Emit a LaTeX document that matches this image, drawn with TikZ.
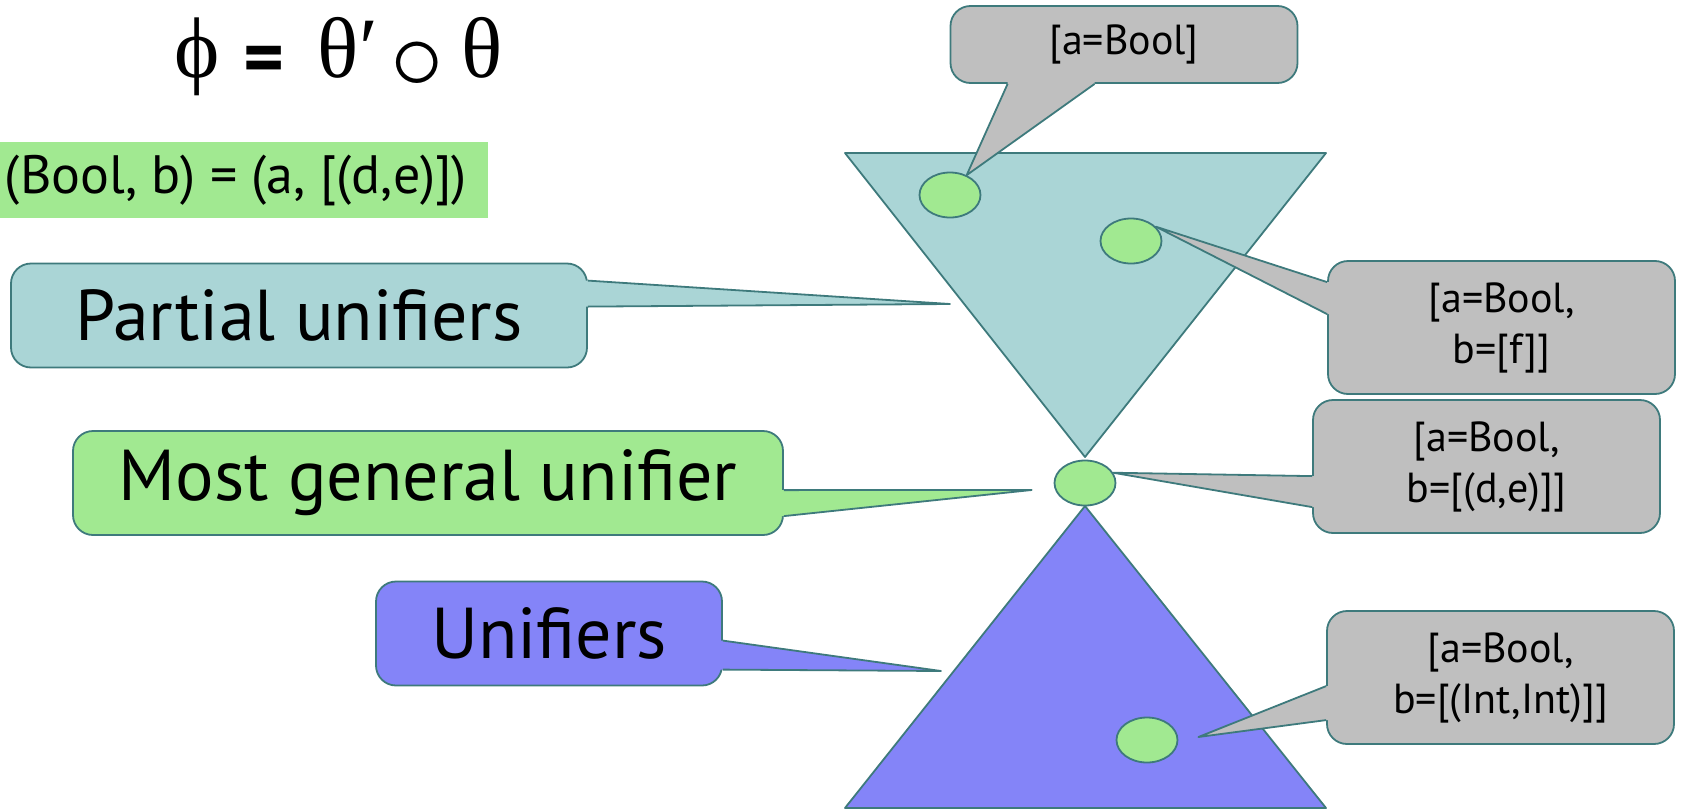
\documentclass[tikz,border=0pt]{standalone}
\usepackage{fontspec}
\setmainfont{PT Sans}
\newfontfamily\greekserif{Liberation Serif}
\usetikzlibrary{calc}
\usetikzlibrary{shapes.geometric}

\definecolor{edgeteal}{RGB}{62,122,124}
\definecolor{cyanfill}{RGB}{170,213,214}
\definecolor{greenfill}{RGB}{161,233,145}
\definecolor{bluefill}{RGB}{132,132,248}
\definecolor{grayfill}{RGB}{191,191,191}

\newcommand{\bigGreek}[1]{{\greekserif\fontsize{43}{48}\selectfont #1}}

\begin{document}
\begin{tikzpicture}[x=0.5pt, y=-0.5pt,
    outline/.style={draw=edgeteal, line width=0.9pt, line join=round},
    bubble/.style={outline, rounded corners=10pt, inner sep=0pt, align=center},
    bigbubble/.style={bubble, minimum height=52pt, font=\fontsize{36}{40}\selectfont},
    subbubble/.style={bubble, fill=grayfill, minimum width=173.5pt, minimum height=66.5pt, font=\fontsize{21}{25.5}\selectfont},
    dot/.style={outline, ellipse, fill=greenfill, minimum width=30.5pt, minimum height=22.5pt, inner sep=0pt}]

\useasboundingbox (0,0) rectangle (1683,809);

% Composition
\node[anchor=base west, inner sep=0pt] (phi) at (143.5,77)
    {\makebox[40pt]{\hspace*{13pt}\bigGreek{ϕ}}%
     \makebox[40pt]{\raisebox{-3.5pt}{\fontsize{39}{44}\selectfont\bfseries =}}%
     \makebox[44pt]{\bigGreek{θ′}}%
     \makebox[22.5pt]{\hspace*{3pt}\raisebox{-6.4pt}{\scalebox{5.35}{$\circ$}}}%
     \makebox[45pt]{\bigGreek{θ}}};

% Equation to solve
\node[fill=greenfill, minimum width=244pt, minimum height=38pt, inner sep=0pt,
      font=\fontsize{27}{31}\selectfont] (eqn) at (244,180) {\hspace*{-8pt}(Bool, b) = (a, [(d,e)])};

% Cones
\draw[outline, fill=cyanfill] (845,153) -- (1326,153) -- (1085,457) -- cycle;
\draw[outline, fill=bluefill] (1085,506) -- (1326,808) -- (845,808) -- cycle;

% Substitutions
\node[dot] (dotA) at (950,195) {};
\node[dot] (dotB) at (1131,241) {};
\node[dot] (dotMgu) at (1085,483) {};
\node[dot] (dotC) at (1147,740) {};

% Labels on the left
\node[bigbubble, fill=cyanfill, minimum width=288pt] (partial) at (299,315.5) {Partial unifiers};
\node[bigbubble, fill=greenfill, minimum width=355pt] (general) at (428,483) {Most general unifier};
\node[bigbubble, fill=bluefill, minimum width=173pt] (unifiers) at (549,633.5) {Unifiers};

\coordinate (partialTip) at (950,304);
\fill[cyanfill] ($(partial.north east)+(-4,18)$) -- ($(partial.north east)+(0,18)$) -- (partialTip)
    -- ($(partial.north east)+(0,44)$) -- ($(partial.north east)+(-4,44)$) -- cycle;
\draw[outline] ($(partial.north east)+(0,18)$) -- (partialTip) -- ($(partial.north east)+(0,44)$);

\coordinate (generalTip) at ($(dotMgu.west)+(-22,7)$);
\fill[greenfill] ($(general.north east)+(-4,60)$) -- ($(general.north east)+(0,60)$) -- (generalTip)
    -- ($(general.north east)+(0,86)$) -- ($(general.north east)+(-4,86)$) -- cycle;
\draw[outline] ($(general.north east)+(0,60)$) -- (generalTip) -- ($(general.north east)+(0,86)$);

\coordinate (unifiersTip) at (941,671);
\fill[bluefill] ($(unifiers.north east)+(-4,60)$) -- ($(unifiers.north east)+(0,60)$) -- (unifiersTip)
    -- ($(unifiers.north east)+(0,89)$) -- ($(unifiers.north east)+(-4,89)$) -- cycle;
\draw[outline] ($(unifiers.north east)+(0,60)$) -- (unifiersTip) -- ($(unifiers.north east)+(0,89)$);

% Labels on the right
\node[subbubble, minimum height=38.5pt] (subA) at (1124,44.5) {[a=Bool]};
\node[subbubble] (subB) at (1501.5,327.5) {[a=Bool,\\ b=[f]]};
\node[subbubble] (subMgu) at (1486.5,466.5) {[a=Bool,\\ b=[(d,e)]]};
\node[subbubble] (subC) at (1500.5,677.5) {[a=Bool,\\ b=[(Int,Int)]]};

\fill[grayfill] ($(subA.south west)+(58,-4)$) -- ($(subA.south west)+(58,0)$) -- (dotA.50)
    -- ($(subA.south west)+(145,0)$) -- ($(subA.south west)+(145,-4)$) -- cycle;
\draw[outline] ($(subA.south west)+(58,0)$) -- (dotA.50) -- ($(subA.south west)+(145,0)$);

\fill[grayfill] ($(subB.north west)+(4,22)$) -- ($(subB.north west)+(0,22)$) -- (dotB.30)
    -- ($(subB.north west)+(0,54)$) -- ($(subB.north west)+(4,54)$) -- cycle;
\draw[outline] ($(subB.north west)+(0,22)$) -- (dotB.30) -- ($(subB.north west)+(0,54)$);

\fill[grayfill] ($(subMgu.north west)+(4,77)$) -- ($(subMgu.north west)+(0,77)$) -- (dotMgu.20)
    -- ($(subMgu.north west)+(0,108)$) -- ($(subMgu.north west)+(4,108)$) -- cycle;
\draw[outline] ($(subMgu.north west)+(0,77)$) -- (dotMgu.20) -- ($(subMgu.north west)+(0,108)$);

\coordinate (subCTip) at ($(dotC.east)+(20,-3)$);
\fill[grayfill] ($(subC.north west)+(4,76)$) -- ($(subC.north west)+(0,76)$) -- (subCTip)
    -- ($(subC.north west)+(0,110)$) -- ($(subC.north west)+(4,110)$) -- cycle;
\draw[outline] ($(subC.north west)+(0,76)$) -- (subCTip) -- ($(subC.north west)+(0,110)$);

\end{tikzpicture}
\end{document}
